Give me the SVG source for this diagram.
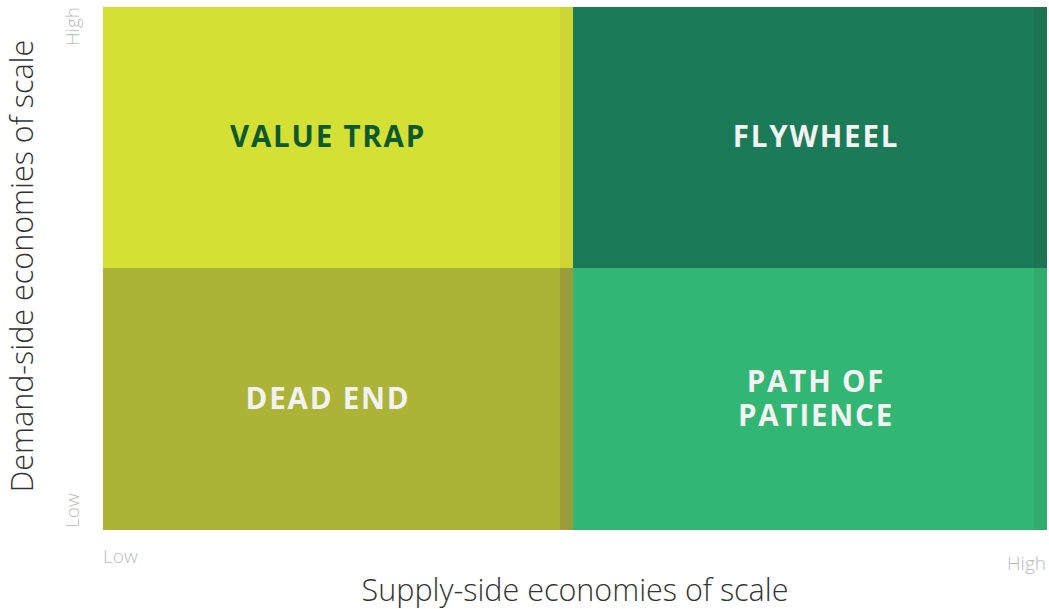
<svg xmlns="http://www.w3.org/2000/svg" width="1049" height="609" viewBox="0 0 1049 609">
<style>
.q{font-family:"Open Sans","Liberation Sans",sans-serif;font-weight:700;font-size:29.5px;letter-spacing:1.8px;text-anchor:middle}
.light{fill:#f2f2f2}
.ax{font-family:"Open Sans","Liberation Sans",sans-serif;font-weight:300;font-size:30.5px;fill:#333}
.tick{font-family:"Open Sans","Liberation Sans",sans-serif;font-weight:300;font-size:19px;fill:#bbb}
</style>
<rect width="1049" height="609" fill="#fff"/>
<g id="value-trap">
<rect x="103" y="7" width="470" height="261" fill="#d4e033"/>
<rect x="560" y="7" width="13" height="261" fill="#ccd534"/>
<text class="q" x="328" y="147" fill="#0c5a2e">VALUE TRAP</text>
</g>
<g id="flywheel">
<rect x="573" y="7" width="474" height="261" fill="#1b7b58"/>
<rect x="1034" y="7" width="13" height="261" fill="#1d7453"/>
<text class="q light" x="816" y="147">FLYWHEEL</text>
</g>
<g id="dead-end">
<rect x="103" y="268" width="470" height="262" fill="#abb437"/>
<rect x="560" y="268" width="13" height="262" fill="#9b9d3c"/>
<text class="q light" x="328" y="409">DEAD END</text>
</g>
<g id="path-of-patience">
<rect x="573" y="268" width="474" height="262" fill="#31b673"/>
<rect x="1034" y="268" width="13" height="262" fill="#2fad6d"/>
<text class="q light" x="816" y="392">PATH OF</text>
<text class="q light" x="816" y="426">PATIENCE</text>
</g>
<g id="axes">
<text class="ax" transform="translate(33,266) rotate(-90)" text-anchor="middle">Demand-side economies of scale</text>
<text class="ax" x="575" y="601" text-anchor="middle">Supply-side economies of scale</text>
<text class="tick" transform="translate(79,7) rotate(-90)" text-anchor="end">High</text>
<text class="tick" transform="translate(79,528) rotate(-90)" text-anchor="start">Low</text>
<text class="tick" x="103" y="563">Low</text>
<text class="tick" x="1046" y="570" text-anchor="end">High</text>
</g>
</svg>
